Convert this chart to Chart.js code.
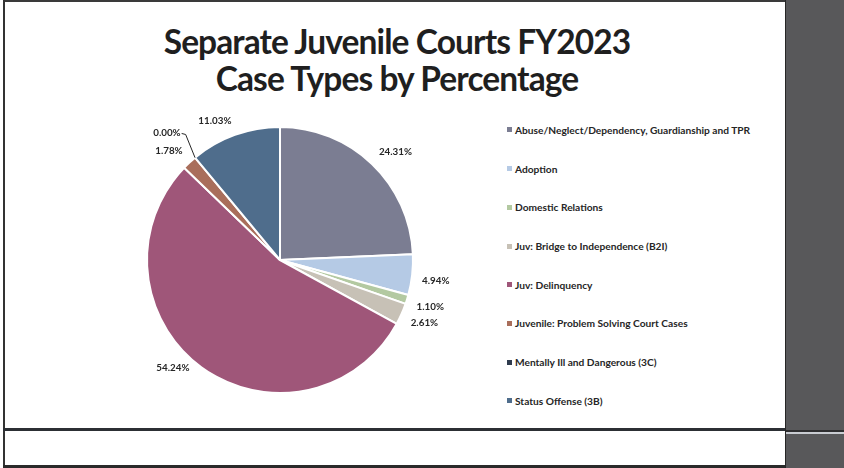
<!DOCTYPE html>
<html>
<head>
<meta charset="utf-8">
<script src="https://cdn.jsdelivr.net/npm/chart.js@4/dist/chart.umd.min.js"></script>
<style>
  html, body { margin: 0; padding: 0; }
  body { width: 844px; height: 468px; position: relative; overflow: hidden; background: #fff; font-family: Lato, "Open Sans", sans-serif; }
  .rule { position: absolute; }
  #title { position: absolute; left: 5px; width: 784px; top: 23px; text-align: center; font-weight: 700; font-size: 33.5px; line-height: 37px; letter-spacing: -0.9px; color: #1f1f1f; }
  #pieBox { position: absolute; left: 5px; top: 100px; width: 485px; height: 325px; }
  #legend { position: absolute; left: 507px; top: 110.6px; margin: 0; padding: 0; list-style: none; }
  #legend li { height: 38.7px; display: flex; align-items: center; font-weight: 700; font-size: 10.2px; color: #262626; white-space: nowrap; }
  #legend li span.mk { display: inline-block; width: 5px; height: 5px; margin-right: 3px; }
</style>
</head>
<body>
  <!-- slide frame -->
  <div class="rule" style="left:3px;top:0;width:782px;height:2px;background:#3a3a3a"></div>
  <div class="rule" style="left:3px;top:0;width:2px;height:468px;background:#333"></div>
  <div class="rule" style="left:785px;top:0;width:59px;height:468px;background:#58585a;border-left:1px solid #262626"></div>
  <div class="rule" style="left:3px;top:428px;width:782px;height:3px;background:#2c2f34"></div>
  <div class="rule" style="left:786px;top:430px;width:58px;height:2px;background:#2e2e30"></div>
  <div class="rule" style="left:786px;top:432px;width:58px;height:2px;background:#c9ccd2"></div>
  <div class="rule" style="left:3px;top:465px;width:782px;height:3px;background:#2a2a2a"></div>

  <div id="title">Separate Juvenile Courts FY2023<br>Case Types by Percentage</div>
  <div id="pieBox"><canvas id="pie"></canvas></div>
  <ul id="legend"></ul>

<script>
// Case types and their share of FY2023 filings (percent)
const caseTypes = [
  'Abuse/Neglect/Dependency, Guardianship and TPR',
  'Adoption',
  'Domestic Relations',
  'Juv: Bridge to Independence (B2I)',
  'Juv: Delinquency',
  'Juvenile: Problem Solving Court Cases',
  'Mentally Ill and Dangerous (3C)',
  'Status Offense (3B)'
];
const sharePct = [24.31, 4.94, 1.10, 2.61, 54.24, 1.78, 0.00, 11.03];
const sliceColors = ['#7b7d92', '#b5cae5', '#b3c9a1', '#c7c1b6', '#9f5679', '#a96e5b', '#2f3b4e', '#4f6d8c'];

// Percentage labels just outside each slice
const sliceLabels = {
  id: 'sliceLabels',
  afterDatasetsDraw(chart, args, opts) {
    const ctx = chart.ctx;
    const meta = chart.getDatasetMeta(0);
    const values = chart.data.datasets[0].data;
    ctx.save();
    ctx.font = opts.font;
    ctx.fillStyle = opts.color;
    ctx.strokeStyle = opts.color;
    ctx.lineWidth = 1;
    ctx.textAlign = 'center';
    ctx.textBaseline = 'middle';
    meta.data.forEach((arc, i) => {
      const p = arc.getProps(['x', 'y', 'startAngle', 'endAngle', 'outerRadius'], true);
      const mid = (p.startAngle + p.endAngle) / 2;
      const dx = Math.cos(mid), dy = Math.sin(mid);
      const text = values[i].toFixed(2) + '%';
      const w = ctx.measureText(text).width;
      const h = opts.textHeight;
      const ax = p.x + (p.outerRadius + opts.gap) * dx;
      const ay = p.y + (p.outerRadius + opts.gap) * dy;
      let cx = ax + Math.sign(dx) * w / 2;
      let cy = ay + Math.sign(dy) * h / 2;
      const s = opts.shift[i];
      if (s) { cx += s[0]; cy += s[1]; }
      if (opts.leader.includes(i)) {
        const ex = p.x + p.outerRadius * dx, ey = p.y + p.outerRadius * dy;
        ctx.beginPath();
        ctx.moveTo(cx + w / 2 + 1, cy + 1);
        ctx.lineTo(cx + w / 2 + 5, cy + 2);
        ctx.lineTo(ex, ey);
        ctx.stroke();
      }
      ctx.fillText(text, cx, cy);
    });
    ctx.restore();
  }
};

const chart = new Chart(document.getElementById('pie'), {
  type: 'pie',
  data: {
    labels: caseTypes,
    datasets: [{
      data: sharePct,
      backgroundColor: sliceColors,
      borderColor: '#ffffff',
      borderWidth: 2,
      hoverBorderWidth: 2,
      hoverOffset: 0
    }]
  },
  options: {
    responsive: true,
    maintainAspectRatio: false,
    animation: false,
    events: [],
    layout: { padding: { left: 140, right: 75, top: 26, bottom: 31 } },
    plugins: {
      legend: { display: false },
      tooltip: { enabled: false },
      sliceLabels: {
        font: '700 9.8px Lato, "Open Sans", sans-serif',
        color: '#262626',
        textHeight: 9,
        gap: 10,
        shift: { 4: [-6, -12], 6: [-8, -13] },
        leader: [6]
      }
    }
  },
  plugins: [sliceLabels]
});

// Legend list built from the chart's own legend items
const legendEl = document.getElementById('legend');
chart.options.plugins.legend.labels.generateLabels(chart).forEach(item => {
  const li = document.createElement('li');
  const mk = document.createElement('span');
  mk.className = 'mk';
  mk.style.background = item.fillStyle;
  li.appendChild(mk);
  li.appendChild(document.createTextNode(item.text));
  legendEl.appendChild(li);
});
</script>
</body>
</html>
